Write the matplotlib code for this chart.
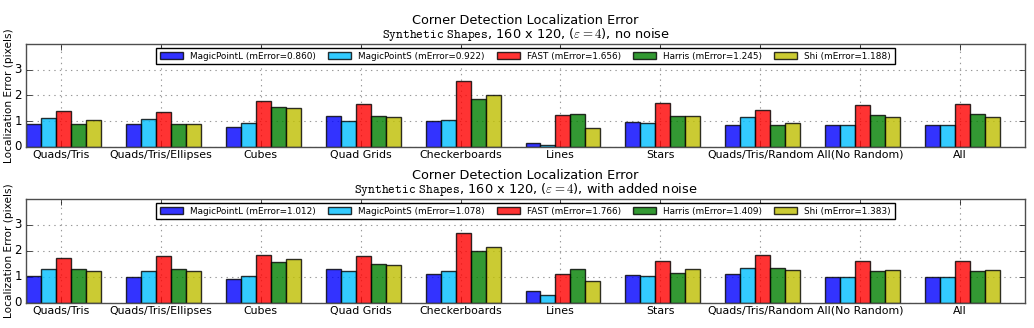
import numpy as np
import matplotlib
matplotlib.use("Agg")
import matplotlib.pyplot as plt

plt.style.use("classic")
plt.rcParams["mathtext.fontset"] = "cm"

categories = ["Quads/Tris", "Quads/Tris/Ellipses", "Cubes", "Quad Grids", "Checkerboards",
              "Lines", "Stars", "Quads/Tris/Random", "All(No Random)", "All"]
methods = ["MagicPointL", "MagicPointS", "FAST", "Harris", "Shi"]
colors = ["b", "deepskyblue", "r", "g", "y"]

# no noise
clean_magicL = [0.89, 0.91, 0.78, 1.19, 1.00, 0.17, 0.98, 0.87, 0.85, 0.85]
clean_magicS = [1.11, 1.08, 0.93, 1.02, 1.03, 0.08, 0.94, 1.17, 0.86, 0.87]
clean_fast = [1.41, 1.37, 1.80, 1.67, 2.58, 1.25, 1.72, 1.42, 1.62, 1.68]
clean_harris = [0.91, 0.89, 1.55, 1.21, 1.85, 1.30, 1.19, 0.87, 1.25, 1.30]
clean_shi = [1.04, 0.91, 1.51, 1.15, 2.00, 0.72, 1.21, 0.93, 1.15, 1.15]
clean_merr = [0.860, 0.922, 1.656, 1.245, 1.188]

# with noise
noise_magicL = [1.04, 1.01, 0.92, 1.32, 1.13, 0.48, 1.06, 1.10, 0.99, 0.99]
noise_magicS = [1.29, 1.25, 1.03, 1.23, 1.22, 0.32, 1.04, 1.35, 0.99, 0.99]
noise_fast = [1.74, 1.82, 1.84, 1.82, 2.68, 1.12, 1.60, 1.83, 1.60, 1.60]
noise_harris = [1.31, 1.31, 1.58, 1.49, 2.00, 1.32, 1.16, 1.35, 1.23, 1.23]
noise_shi = [1.25, 1.23, 1.68, 1.47, 2.16, 0.83, 1.32, 1.27, 1.27, 1.27]
noise_merr = [1.012, 1.078, 1.766, 1.409, 1.383]

ind = np.arange(len(categories))
width = 0.15

fig = plt.figure(figsize=(10.34, 3.28), dpi=100, facecolor="white")
ax1 = fig.add_axes([26/1034, (328-147)/328, 999/1034, 103/328])
ax2 = fig.add_axes([26/1034, (328-303)/328, 999/1034, 104/328])


def draw(ax, series, merr, subtitle):
    for i, vals in enumerate(series):
        ax.bar(ind + i*width, vals, width, align="edge", color=colors[i], alpha=0.8,
               edgecolor="black", linewidth=1.0,
               label="%s (mError=%.3f)" % (methods[i], merr[i]))
    ax.set_xlim(0, 10)
    ax.set_ylim(0, 4)
    ax.set_yticks([0, 1, 2, 3])
    ax.set_xticks(ind + 0.35)
    ax.set_xticklabels(categories, fontsize=7.9)
    ax.tick_params(axis="x", pad=2)
    ax.tick_params(axis="y", labelsize=8.5, pad=3)
    ax.grid(True, color="0.6", linestyle=":", linewidth=0.8)
    ax.set_axisbelow(True)
    ax.set_ylabel("Localization Error (pixels)", fontsize=7.6)
    ax.yaxis.set_label_coords(-0.0125, 0.5)
    ax.text(0.5, 1.23, "Corner Detection Localization Error", transform=ax.transAxes,
            ha="center", va="center", fontsize=9.3)
    ax.text(0.5, 1.09, r"$\mathtt{Synthetic\ Shapes}$, 160 x 120, ($\varepsilon=4$), " + subtitle,
            transform=ax.transAxes, ha="center", va="center", fontsize=9.3)
    leg = ax.legend(loc="upper center", ncol=5, fontsize=6.4, borderaxespad=0.45,
                    handlelength=2.6, handleheight=0.8, columnspacing=1.35,
                    borderpad=0.4, fancybox=False)
    leg.get_frame().set_edgecolor("black")
    for sp in ax.spines.values():
        sp.set_edgecolor("0.3")


draw(ax1, [clean_magicL, clean_magicS, clean_fast, clean_harris, clean_shi], clean_merr, "no noise")
draw(ax2, [noise_magicL, noise_magicS, noise_fast, noise_harris, noise_shi], noise_merr, "with added noise")

fig.savefig("out.png", dpi=100, facecolor="white")
